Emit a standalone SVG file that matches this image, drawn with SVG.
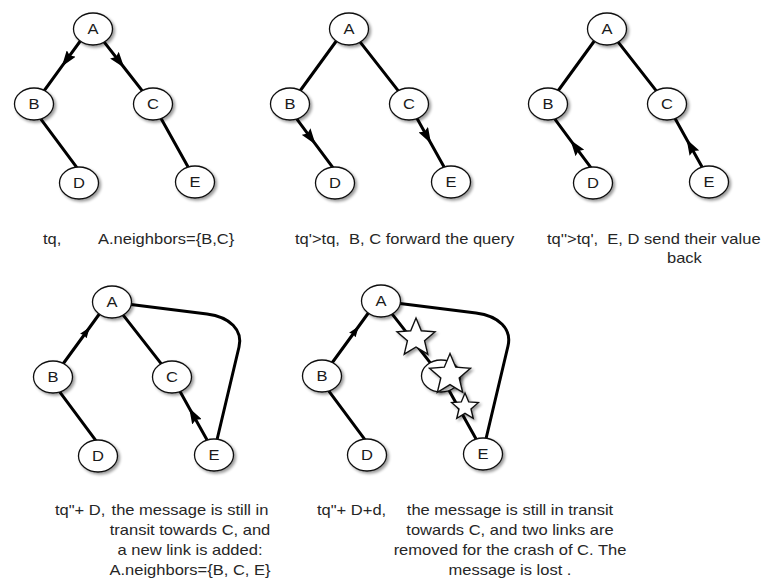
<svg xmlns="http://www.w3.org/2000/svg" width="764" height="579" viewBox="0 0 764 579">
<style>
.n ellipse{fill:#fff;stroke:#111;stroke-width:1.3}
.n text{font-family:"Liberation Sans",Arial,sans-serif;font-size:14px;fill:#1a1a1a;text-anchor:middle}
.e{fill:none;stroke:#000;stroke-width:3;stroke-linecap:round}
.a{marker-mid:url(#arr)}
.as{marker-mid:url(#arrS)}
.cap{font-family:"Liberation Sans",Arial,sans-serif;font-size:14px;fill:#262626}
.mid{text-anchor:middle}
.star{fill:#fff;stroke:#111;stroke-width:1.4}
</style>
<defs>
<filter id="sh" x="-40%" y="-40%" width="180%" height="180%">
<feGaussianBlur in="SourceAlpha" stdDeviation="1.6"/>
<feOffset dx="1.5" dy="2" result="o"/>
<feComponentTransfer><feFuncA type="linear" slope="0.4"/></feComponentTransfer>
<feMerge><feMergeNode/><feMergeNode in="SourceGraphic"/></feMerge>
</filter>
<marker id="arr" markerUnits="userSpaceOnUse" viewBox="0 0 16 11" markerWidth="16" markerHeight="11" refX="16" refY="5.5" orient="auto">
<path d="M0,0 L16,5.5 L0,11 L2.5,5.5 z" fill="#000"/>
</marker>
<marker id="arrS" markerUnits="userSpaceOnUse" viewBox="0 0 11 8" markerWidth="11" markerHeight="8" refX="11" refY="4" orient="auto">
<path d="M0,0 L11,4 L0,8 L1.5,4 z" fill="#000"/>
</marker>
<polygon id="star" class="star" vector-effect="non-scaling-stroke" points="0,-1 0.265,-0.364 0.951,-0.309 0.428,0.139 0.588,0.809 0,0.45 -0.588,0.809 -0.428,0.139 -0.951,-0.309 -0.265,-0.364"/>
</defs>

<g id="connectors">
<!-- panel 1 -->
<path class="e a" d="M82.5,38 L61.8,66.4 L42.5,93"/>
<path class="e a" d="M101.3,38.3 L124.25,67.75 L143.7,92.7"/>
<path class="e" d="M39.4,117.2 L78.6,169.8"/>
<path class="e" d="M160.1,116.8 L189.9,170.2"/>
<!-- panel 2 -->
<path class="e" d="M338.5,38 L298.5,93"/>
<path class="e" d="M357.3,38.3 L399.7,92.7"/>
<path class="e a" d="M295.4,117.2 L315.6,144.4 L334.6,169.8"/>
<path class="e a" d="M416.1,116.8 L431,143.5 L445.9,170.2"/>
<!-- panel 3 -->
<path class="e" d="M596.5,38 L556.5,93"/>
<path class="e" d="M615.3,38.3 L657.7,92.7"/>
<path class="e a" d="M592.6,169.8 L570.4,140.1 L553.4,117.2"/>
<path class="e a" d="M703.9,170.2 L686.6,139.2 L674.1,116.8"/>
<!-- panel 4 -->
<path class="e as" d="M61.5,366 L89.75,327.25 L101.5,311"/>
<path class="e" d="M120.3,311.3 L162.7,365.7"/>
<path class="e" d="M58.4,390.2 L97.6,442.8"/>
<path class="e a" d="M208.9,443.2 L189.2,407.9 L179.1,389.8"/>
<path class="e" d="M127,304 L207,314 C230,317 243,330 239,347 L216,444"/>
<!-- panel 5 -->
<path class="e as" d="M330.5,365 L358.75,326.25 L370.5,310"/>
<path class="e" d="M389.3,310.3 L431.7,364.7"/>
<path class="e" d="M448.1,388.8 L477.9,442.2"/>
<path class="e" d="M327.4,389.2 L366.6,441.8"/>
<path class="e" d="M396,303 L476,313 C499,316 512,329 508,346 L485,443"/>
</g>

<g id="panel1">
<g id="p1-A" class="n" transform="translate(93,29)"><ellipse rx="19.5" ry="16" filter="url(#sh)"/><text transform="scale(1.18,1)" y="5">A</text></g>
<g id="p1-B" class="n" transform="translate(34,104)"><ellipse rx="19.5" ry="16" filter="url(#sh)"/><text transform="scale(1.18,1)" y="5">B</text></g>
<g id="p1-C" class="n" transform="translate(153,104)"><ellipse rx="19.5" ry="16" filter="url(#sh)"/><text transform="scale(1.18,1)" y="5">C</text></g>
<g id="p1-D" class="n" transform="translate(79,183)"><ellipse rx="19.5" ry="16" filter="url(#sh)"/><text transform="scale(1.18,1)" y="5">D</text></g>
<g id="p1-E" class="n" transform="translate(195,182)"><ellipse rx="19.5" ry="16" filter="url(#sh)"/><text transform="scale(1.18,1)" y="5">E</text></g>
</g>
<g id="panel2">
<g id="p2-A" class="n" transform="translate(349,29)"><ellipse rx="19.5" ry="16" filter="url(#sh)"/><text transform="scale(1.18,1)" y="5">A</text></g>
<g id="p2-B" class="n" transform="translate(290,104)"><ellipse rx="19.5" ry="16" filter="url(#sh)"/><text transform="scale(1.18,1)" y="5">B</text></g>
<g id="p2-C" class="n" transform="translate(409,104)"><ellipse rx="19.5" ry="16" filter="url(#sh)"/><text transform="scale(1.18,1)" y="5">C</text></g>
<g id="p2-D" class="n" transform="translate(335,183)"><ellipse rx="19.5" ry="16" filter="url(#sh)"/><text transform="scale(1.18,1)" y="5">D</text></g>
<g id="p2-E" class="n" transform="translate(451,182)"><ellipse rx="19.5" ry="16" filter="url(#sh)"/><text transform="scale(1.18,1)" y="5">E</text></g>
</g>
<g id="panel3">
<g id="p3-A" class="n" transform="translate(607,29)"><ellipse rx="19.5" ry="16" filter="url(#sh)"/><text transform="scale(1.18,1)" y="5">A</text></g>
<g id="p3-B" class="n" transform="translate(548,104)"><ellipse rx="19.5" ry="16" filter="url(#sh)"/><text transform="scale(1.18,1)" y="5">B</text></g>
<g id="p3-C" class="n" transform="translate(667,104)"><ellipse rx="19.5" ry="16" filter="url(#sh)"/><text transform="scale(1.18,1)" y="5">C</text></g>
<g id="p3-D" class="n" transform="translate(593,183)"><ellipse rx="19.5" ry="16" filter="url(#sh)"/><text transform="scale(1.18,1)" y="5">D</text></g>
<g id="p3-E" class="n" transform="translate(709,182)"><ellipse rx="19.5" ry="16" filter="url(#sh)"/><text transform="scale(1.18,1)" y="5">E</text></g>
</g>
<g id="panel4">
<g id="p4-A" class="n" transform="translate(112,302)"><ellipse rx="19.5" ry="16" filter="url(#sh)"/><text transform="scale(1.18,1)" y="5">A</text></g>
<g id="p4-B" class="n" transform="translate(53,377)"><ellipse rx="19.5" ry="16" filter="url(#sh)"/><text transform="scale(1.18,1)" y="5">B</text></g>
<g id="p4-C" class="n" transform="translate(172,377)"><ellipse rx="19.5" ry="16" filter="url(#sh)"/><text transform="scale(1.18,1)" y="5">C</text></g>
<g id="p4-D" class="n" transform="translate(98,456)"><ellipse rx="19.5" ry="16" filter="url(#sh)"/><text transform="scale(1.18,1)" y="5">D</text></g>
<g id="p4-E" class="n" transform="translate(214,455)"><ellipse rx="19.5" ry="16" filter="url(#sh)"/><text transform="scale(1.18,1)" y="5">E</text></g>
</g>
<g id="panel5">
<g id="p5-A" class="n" transform="translate(381,301)"><ellipse rx="19.5" ry="16" filter="url(#sh)"/><text transform="scale(1.18,1)" y="5">A</text></g>
<g id="p5-B" class="n" transform="translate(322,376)"><ellipse rx="19.5" ry="16" filter="url(#sh)"/><text transform="scale(1.18,1)" y="5">B</text></g>
<g id="p5-C" class="n" transform="translate(441,376)"><ellipse rx="19.5" ry="16" filter="url(#sh)"/></g>
<g id="p5-D" class="n" transform="translate(367,455)"><ellipse rx="19.5" ry="16" filter="url(#sh)"/><text transform="scale(1.18,1)" y="5">D</text></g>
<g id="p5-E" class="n" transform="translate(483,454)"><ellipse rx="19.5" ry="16" filter="url(#sh)"/><text transform="scale(1.18,1)" y="5">E</text></g>
<g id="crash" filter="url(#sh)">
<use href="#star" transform="translate(416,338) scale(20)"/>
<use href="#star" transform="translate(450,375) scale(21.5)"/>
<use href="#star" transform="translate(465,407) scale(14)"/>
</g>
</g>

<g id="captions" transform="scale(1.18,1)">
<text class="cap" x="36.44" y="244">tq,</text>
<text class="cap" x="83.05" y="244">A.neighbors={B,C}</text>
<text class="cap" x="250" y="244" xml:space="preserve">tq'&gt;tq,  B, C forward the query</text>
<text class="cap" x="463.56" y="244" xml:space="preserve">tq''&gt;tq',  E, D send their value</text>
<text class="cap" x="565.25" y="263">back</text>
<text class="cap" x="46.61" y="515">tq"+ D,</text>
<text class="cap mid" x="161.02" y="515">the message is still in</text>
<text class="cap mid" x="161.02" y="535">transit towards C, and</text>
<text class="cap mid" x="161.02" y="555">a new link is added:</text>
<text class="cap mid" x="161.02" y="575">A.neighbors={B, C, E}</text>
<text class="cap" x="268.64" y="515">tq"+ D+d,</text>
<text class="cap mid" x="432.2" y="515">the message is still in transit</text>
<text class="cap mid" x="432.2" y="535">towards C, and two links are</text>
<text class="cap mid" x="432.2" y="555">removed for the crash of C. The</text>
<text class="cap mid" x="432.2" y="575">message is lost .</text>
</g>
</svg>
